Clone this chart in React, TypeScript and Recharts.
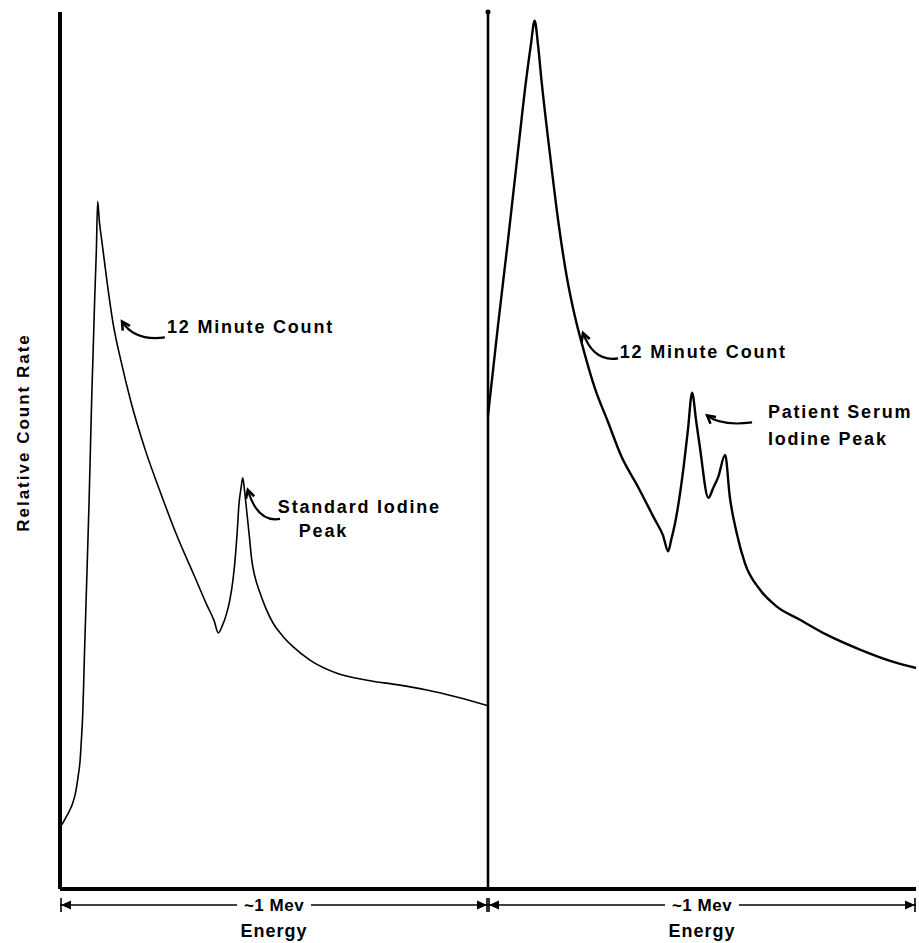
import { LineChart, Line, XAxis, YAxis, ReferenceLine, ReferenceDot } from 'recharts'

// energy in Mev (each panel ~1 Mev wide), count rate in relative units 0-100
const standardEnergy = [
  0.004, 0.012, 0.021, 0.029, 0.036, 0.042, 0.047, 0.05, 0.053, 0.055, 0.057, 0.061, 0.068, 0.074, 0.081,
  0.085, 0.088, 0.092, 0.098, 0.11, 0.124, 0.143, 0.166, 0.199, 0.234, 0.273, 0.313, 0.343, 0.36, 0.37,
  0.379, 0.388, 0.397, 0.404, 0.409, 0.414, 0.418, 0.423, 0.427, 0.431, 0.436, 0.442, 0.448, 0.456, 0.467,
  0.481, 0.498, 0.521, 0.545, 0.584, 0.647, 0.717, 0.787, 0.857, 0.927, 1.0,
]
const standardCount = [
  7.3, 8.0, 8.8, 9.7, 10.9, 12.7, 14.7, 17.0, 19.8, 22.9, 26.5, 32.9, 44.3, 55.8, 67.2,
  72.9, 78.4, 76.1, 73.8, 69.2, 64.5, 60.1, 55.5, 50.1, 45.3, 40.3, 35.8, 32.4, 30.6, 29.2,
  30.0, 31.2, 33.0, 35.2, 37.5, 40.7, 43.8, 45.7, 46.9, 45.5, 43.2, 40.4, 37.5, 35.5, 33.8,
  32.0, 30.3, 28.8, 27.6, 26.1, 24.6, 23.8, 23.3, 22.7, 21.9, 20.9,
]

const serumEnergy = [
  1.0, 1.023, 1.047, 1.07, 1.089, 1.1, 1.109, 1.117, 1.125, 1.144, 1.164, 1.183, 1.203, 1.222, 1.249,
  1.28, 1.311, 1.35, 1.389, 1.409, 1.421, 1.428, 1.437, 1.457, 1.467, 1.477, 1.486, 1.495, 1.515, 1.526,
  1.538, 1.554, 1.565, 1.581, 1.6, 1.636, 1.675, 1.729, 1.791, 1.869, 1.947, 2.0,
]
const serumCount = [
  54.0, 64.1, 74.1, 84.1, 92.2, 96.2, 99.0, 96.2, 92.2, 84.1, 76.2, 70.1, 65.3, 61.7, 57.2,
  53.3, 49.4, 45.9, 42.2, 40.3, 38.5, 39.8, 41.7, 48.1, 52.3, 56.6, 53.5, 50.4, 44.6, 45.7,
  47.0, 49.5, 44.7, 40.6, 37.2, 34.1, 32.2, 30.7, 29.0, 27.3, 25.9, 25.2,
]

// annotation text, anchored at its left baseline
const noteText = ['12 Minute Count', 'Standard Iodine', 'Peak', '12 Minute Count', 'Patient Serum', 'Iodine Peak']
const noteEnergy = [0.25, 0.509, 0.558, 1.308, 1.654, 1.654]
const noteCount = [63.4, 42.9, 40.1, 60.5, 53.7, 50.6]

// curved pointer arrows, tail near the text, head at the curve
const arrowTailEnergy = [0.245, 0.514, 1.304, 1.617]
const arrowTailCount = [62.9, 42.2, 60.5, 53.2]
const arrowHeadEnergy = [0.145, 0.439, 1.222, 1.512]
const arrowHeadCount = [64.7, 45.5, 63.4, 54.0]

// ~1 Mev span markers under the axis
const spanStart = [0, 1]
const spanEnd = [1, 2]
const spanLabel = ['~1 Mev', '~1 Mev']
const spanLevel = -1.82
const panelCenters = [0.5, 1.5]

const standardData = standardEnergy.map((x, i) => ({ x, y: standardCount[i] }))
const serumData = serumEnergy.map((x, i) => ({ x, y: serumCount[i] }))

const FONT = '"Liberation Sans", Arial, sans-serif'

function CurvedArrow(props: any) {
  const { x1, y1, x2, y2 } = props
  const cx = x2 + (x1 - x2) * 0.3
  const cy = Math.max(y1, y2) + 4
  const ang = Math.atan2(y2 - cy, x2 - cx)
  const len = 9
  const a1 = ang + Math.PI - 0.5
  const a2 = ang + Math.PI + 0.5
  return (
    <g>
      <path d={`M${x1},${y1} Q${cx},${cy} ${x2},${y2}`} fill="none" stroke="#000" strokeWidth={2.2} />
      <path
        d={`M${x2 + len * Math.cos(a1)},${y2 + len * Math.sin(a1)} L${x2},${y2} L${x2 + len * Math.cos(a2)},${y2 + len * Math.sin(a2)}`}
        fill="none"
        stroke="#000"
        strokeWidth={2.6}
      />
    </g>
  )
}

function SpanMarker(label: string) {
  return (props: any) => {
    const { x1, y1, x2 } = props
    const mid = (x1 + x2) / 2
    return (
      <g>
        <line x1={x1} y1={y1} x2={x2} y2={y1} stroke="#000" strokeWidth={1.6} />
        <line x1={x1 + 1} y1={y1 - 7} x2={x1 + 1} y2={y1 + 7} stroke="#000" strokeWidth={1.6} />
        <line x1={x2 - 1} y1={y1 - 7} x2={x2 - 1} y2={y1 + 7} stroke="#000" strokeWidth={1.6} />
        <polygon points={`${x1 + 1},${y1} ${x1 + 11},${y1 - 4.5} ${x1 + 11},${y1 + 4.5}`} fill="#000" />
        <polygon points={`${x2 - 1},${y1} ${x2 - 11},${y1 - 4.5} ${x2 - 11},${y1 + 4.5}`} fill="#000" />
        <rect x={mid - 37} y={y1 - 10} width={74} height={20} fill="#fff" />
        <text x={mid} y={y1 + 6} textAnchor="middle" fontFamily={FONT} fontWeight="bold" fontSize={17} letterSpacing={0.5}>
          {label}
        </text>
      </g>
    )
  }
}

function EnergyTick(props: any) {
  const { x, y } = props
  return (
    <text x={x} y={y} dy={48} textAnchor="middle" fontFamily={FONT} fontWeight="bold" fontSize={18} letterSpacing={1}>
      Energy
    </text>
  )
}

function YTitle(props: any) {
  const vb = props.viewBox
  const cx = vb.x + 23
  const cy = vb.y + vb.height / 2 - 18
  return (
    <text
      transform={`translate(${cx},${cy}) rotate(-90)`}
      textAnchor="middle"
      dominantBaseline="central"
      fontFamily={FONT}
      fontWeight="bold"
      fontSize={17}
      letterSpacing={2}
    >
      Relative Count Rate
    </text>
  )
}

export default function App() {
  return (
    <div style={{ position: 'absolute', left: 0, top: 0, width: 919, height: 943, overflow: 'hidden', background: '#fff' }}>
      <LineChart width={919} height={943} margin={{ top: 12, right: 3, bottom: 0, left: 0 }}>
        <XAxis
          type="number"
          dataKey="x"
          domain={[0, 2]}
          ticks={panelCenters}
          tickSize={0}
          tickMargin={0}
          tickLine={false}
          tick={<EnergyTick />}
          height={54}
          axisLine={{ stroke: '#000', strokeWidth: 4 }}
        />
        <YAxis
          type="number"
          dataKey="y"
          domain={[0, 100]}
          width={60}
          tick={false}
          tickLine={false}
          axisLine={{ stroke: '#000', strokeWidth: 4 }}
          label={{ content: <YTitle /> }}
        />
        <ReferenceLine x={1} stroke="#000" strokeWidth={2.6} />
        <ReferenceDot x={1} y={100} r={2.5} fill="#000" stroke="none" />

        <Line data={standardData} dataKey="y" type="monotone" stroke="#000" strokeWidth={1.6} dot={false} isAnimationActive={false} />
        <Line data={serumData} dataKey="y" type="monotone" stroke="#000" strokeWidth={2.4} dot={false} isAnimationActive={false} />

        {arrowTailEnergy.map((tx, i) => (
          <ReferenceLine
            key={`arrow-${i}`}
            segment={[
              { x: tx, y: arrowTailCount[i] },
              { x: arrowHeadEnergy[i], y: arrowHeadCount[i] },
            ]}
            ifOverflow="visible"
            shape={<CurvedArrow />}
          />
        ))}

        {noteText.map((t, i) => (
          <ReferenceDot
            key={`note-${i}`}
            x={noteEnergy[i]}
            y={noteCount[i]}
            r={1}
            shape={(p: any) => (
              <text x={p.cx} y={p.cy} fontFamily={FONT} fontWeight="bold" fontSize={18} letterSpacing={1.8} fill="#000">
                {t}
              </text>
            )}
          />
        ))}

        {spanStart.map((s, i) => (
          <ReferenceLine
            key={`span-${i}`}
            segment={[
              { x: s, y: spanLevel },
              { x: spanEnd[i], y: spanLevel },
            ]}
            ifOverflow="visible"
            shape={SpanMarker(spanLabel[i])}
          />
        ))}
      </LineChart>
    </div>
  )
}
